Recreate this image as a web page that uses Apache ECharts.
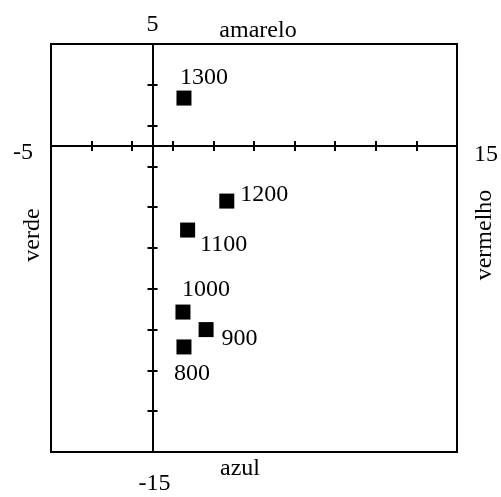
<!DOCTYPE html>
<html>
<head>
<meta charset="utf-8">
<script src="https://cdn.jsdelivr.net/npm/echarts@6/dist/echarts.min.js"></script>
<style>
  html, body { margin: 0; padding: 0; background: #fff; }
  #chart { width: 501px; height: 497px; }
</style>
</head>
<body>
<div id="chart"></div>
<script>
// pontos (rótulo, eixo horizontal, eixo vertical)
const pointNames = ['800', '900', '1000', '1100', '1200', '1300']
const xValues = [1.55, 2.64, 1.5, 1.73, 3.66, 1.55]
const yValues = [-9.85, -9.0, -8.14, -4.12, -2.7, 2.35]

const xMin = -5, xMax = 15
const yMin = -15, yMax = 5
const tickStep = 2

// onde fica o rótulo de cada ponto
const labelSpots = [
  { position: 'bottom', offset: [8, 2] },
  { position: 'right', offset: [3, 9] },
  { position: 'top', offset: [23, 2] },
  { position: 'right', offset: [0, 15] },
  { position: 'right', offset: [1, -6] },
  { position: 'top', offset: [20, 4] },
]

const font = 'Liberation Serif'
const textStyle = { fontFamily: font, fontSize: 24, color: '#000' }

// dois eixos por direção, sobre o zero, para os traços cruzarem a linha
function crossAxis(dim, position, extra) {
  return Object.assign({
    type: 'value',
    position: position,
    min: dim === 'x' ? xMin : yMin,
    max: dim === 'x' ? xMax : yMax,
    interval: tickStep,
    axisLine: { show: true, onZero: true, onZeroAxisIndex: 0, lineStyle: { color: '#000', width: 2 } },
    axisTick: { show: true, length: 5, lineStyle: { color: '#000', width: 2 } },
    axisLabel: { show: false },
    splitLine: { show: false },
  }, extra)
}

// títulos das quatro bordas
function sideTitle(text, x, y, rotated) {
  return {
    type: 'text',
    x: x,
    y: y,
    rotation: rotated ? Math.PI / 2 : 0,
    style: {
      text: text,
      fill: '#000',
      font: '24px "' + font + '"',
      align: 'center',
      verticalAlign: 'middle',
    }
  }
}

let myChart = echarts.init(document.getElementById('chart'), null, { renderer: 'canvas' })

let seriesData = pointNames.map((n, i) => ({
  name: n,
  value: [xValues[i], yValues[i]],
  label: {
    show: true,
    formatter: n,
    position: labelSpots[i].position,
    offset: labelSpots[i].offset,
    distance: 5,
  }
}))

let option = {
  animation: false,
  grid: {
    left: 51, top: 44, right: 44, bottom: 45,
    show: true,
    borderColor: '#000',
    borderWidth: 2,
    backgroundColor: 'transparent',
    containLabel: false,
    outerBoundsMode: 'none',
  },
  xAxis: [
    crossAxis('x', 'bottom', {
      name: String(xMin), nameLocation: 'start', nameGap: 18,
      nameTextStyle: Object.assign({}, textStyle, { verticalAlign: 'top', lineHeight: 14 }),
    }),
    crossAxis('x', 'top', {
      name: String(xMax), nameLocation: 'end', nameGap: 17,
      nameTextStyle: Object.assign({}, textStyle, { verticalAlign: 'top', lineHeight: 18 }),
    }),
  ],
  yAxis: [
    crossAxis('y', 'left', {
      name: String(yMin), nameLocation: 'start', nameGap: 20,
      nameTextStyle: Object.assign({ padding: [0, 0, 0, 4] }, textStyle),
    }),
    crossAxis('y', 'right', {
      name: String(yMax), nameLocation: 'end', nameGap: 7,
      nameTextStyle: textStyle,
    }),
  ],
  graphic: [
    sideTitle('amarelo', 258, 31, false),
    sideTitle('azul', 240, 469, false),
    sideTitle('verde', 33, 235, true),
    sideTitle('vermelho', 485, 235, true),
  ],
  series: [
    {
      type: 'scatter',
      xAxisIndex: 0,
      yAxisIndex: 0,
      symbol: 'rect',
      symbolSize: 15,
      itemStyle: { color: '#000', opacity: 1 },
      label: textStyle,
      data: seriesData,
    }
  ]
}
myChart.setOption(option)
</script>
</body>
</html>
